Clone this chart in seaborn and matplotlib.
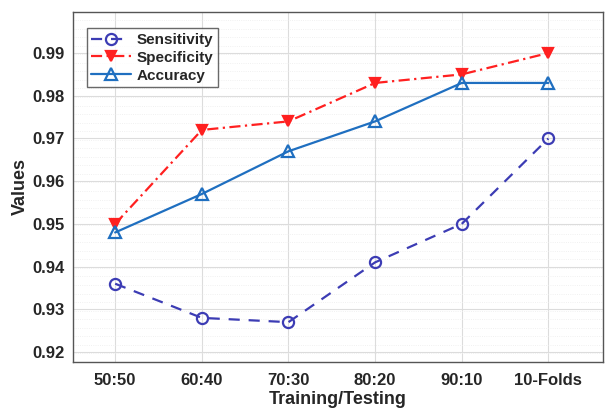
import pandas as pd
import matplotlib.pyplot as plt
import seaborn as sns

splits = ['50:50', '60:40', '70:30', '80:20', '90:10', '10-Folds']
sensitivity = [0.936, 0.928, 0.927, 0.941, 0.950, 0.970]
specificity = [0.950, 0.972, 0.974, 0.983, 0.985, 0.990]
accuracy = [0.948, 0.957, 0.967, 0.974, 0.983, 0.983]

sns.set_style('white')
plt.rcParams['font.family'] = ['Liberation Sans', 'DejaVu Sans']
plt.rcParams['font.weight'] = 'bold'

df = pd.DataFrame({'x': list(range(len(splits))) * 3,
                   'value': sensitivity + specificity + accuracy,
                   'metric': ['Sensitivity'] * 6 + ['Specificity'] * 6 + ['Accuracy'] * 6})

fig = plt.figure(figsize=(6.06, 4.15), dpi=100)
ax = fig.add_axes([0.12, 0.128, 0.875, 0.843])

styles = {
    'Sensitivity': dict(color='#3c3cb4', ls=(0, (5, 4)), marker='o', mfc='none', ms=8),
    'Specificity': dict(color='#ff2020', ls=(0, (5, 2, 1, 2)), marker='v', mfc='#ff2020', ms=6.5),
    'Accuracy': dict(color='#1f6fc0', ls='-', marker='^', mfc='none', ms=8.5),
}
for name, st in styles.items():
    sub = df[df['metric'] == name]
    sns.lineplot(data=sub, x='x', y='value', ax=ax, label=name, color=st['color'],
                 linestyle=st['ls'], marker=st['marker'], markersize=st['ms'],
                 markerfacecolor=st['mfc'], markeredgecolor=st['color'],
                 markeredgewidth=1.6, linewidth=1.6)

ax.set_xlim(-0.49, 5.63)
ax.set_ylim(0.9177, 0.9996)
ax.set_xticks(range(len(splits)))
ax.set_xticklabels(splits)
ax.set_yticks([0.92, 0.93, 0.94, 0.95, 0.96, 0.97, 0.98, 0.99])
ax.set_yticklabels(['0.92', '0.93', '0.94', '0.95', '0.96', '0.97', '0.98', '0.99'])
ax.set_yticks([0.9177 + 0.002 * i for i in range(41)], minor=True)
ax.tick_params(axis='both', direction='in', labelsize=12, length=4, width=0.8, pad=6)
ax.tick_params(axis='x', pad=8)
ax.tick_params(axis='y', which='minor', length=0)
for lab in ax.get_xticklabels() + ax.get_yticklabels():
    lab.set_fontweight('bold')
ax.grid(True, which='major', color='#dcdcdc', linewidth=0.8)
ax.grid(True, which='minor', axis='y', color='#ececec', linewidth=0.6, linestyle=':')
ax.set_axisbelow(True)
for sp in ax.spines.values():
    sp.set_color('#555555')
    sp.set_linewidth(1.0)

ax.set_xlabel('Training/Testing', fontsize=13, fontweight='bold', labelpad=2)
ax.set_ylabel('Values', fontsize=13, fontweight='bold', labelpad=2)

leg = ax.legend(loc='upper left', bbox_to_anchor=(0.012, 0.975), fontsize=11,
                frameon=True, fancybox=False, edgecolor='#444444', handlelength=2.6,
                borderpad=0.3, labelspacing=0.25, handletextpad=0.35)
leg.get_frame().set_linewidth(1.0)
for t in leg.get_texts():
    t.set_fontweight('bold')

fig.savefig('out.png', dpi=100)
